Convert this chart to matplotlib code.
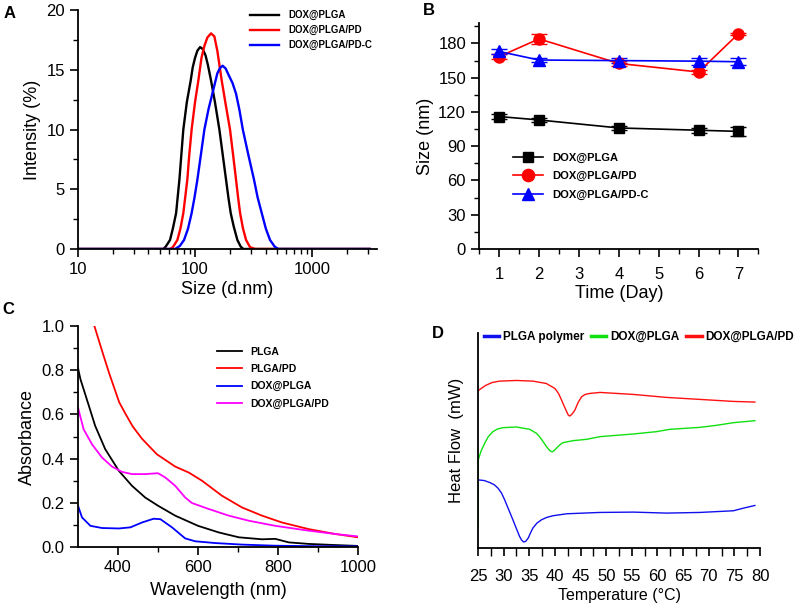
import matplotlib
matplotlib.use("Agg")
import matplotlib.pyplot as plt
import numpy as np
from matplotlib.ticker import MultipleLocator, FixedLocator, NullFormatter, NullLocator, FormatStrFormatter

plt.rcParams['font.family'] = ['Liberation Sans', 'DejaVu Sans']

# ---- panel A: DLS size distribution ----
a_black_x = [10, 53.6, 56.2, 61.1, 64.6, 68.9, 73.5, 79.4, 85.1, 91.8, 95.5, 100, 104.7, 110.4, 116.1, 123,
             128.8, 137, 147.9, 161.4, 171.8, 184, 192.8, 201.8, 213.8, 230, 245.5, 258.8, 3100]
a_black_y = [0, 0, 0.2, 0.75, 1.7, 3.0, 5.8, 10.0, 12.3, 14.1, 15.2, 16.0, 16.6, 16.9, 16.75, 16.2,
             15.4, 14.1, 12.3, 10.0, 8.0, 5.8, 4.3, 3.0, 1.9, 0.75, 0.2, 0, 0]
a_red_x = [10, 61.1, 64.6, 70.6, 75.0, 79.4, 85.9, 89.1, 93.5, 100, 106.7, 113.5, 120.2, 127.4, 137,
           146.2, 155, 169, 182.0, 199, 211.3, 224, 233.3, 242.7, 257.0, 273, 295.1, 326, 3100]
a_red_y = [0, 0, 0.15, 0.75, 1.7, 3.0, 5.8, 7.8, 10.0, 12.3, 14.1, 16.0, 17.0, 17.7, 18.05,
           17.8, 16.6, 14.1, 12.2, 10.0, 7.9, 5.8, 4.3, 3.0, 1.7, 0.75, 0.15, 0, 0]
a_blue_x = [10, 67.5, 74.1, 80.5, 87.1, 93.5, 98.9, 104.7, 112.2, 120.2, 130.3, 140.6, 155, 163.3, 172.2,
            182.8, 195, 208.9, 224, 239.9, 256, 285.1, 319, 342.8, 371.5, 402.7, 437.5, 478.6, 515, 3100]
a_blue_y = [0, 0, 0.25, 0.75, 1.7, 3.0, 4.3, 5.8, 7.9, 10.0, 11.7, 13.0, 14.7, 15.15, 15.34,
            15.1, 14.5, 13.9, 13.0, 11.6, 10.0, 7.9, 5.8, 4.3, 3.0, 1.7, 0.75, 0.2, 0, 0]
a_labels = ['DOX@PLGA', 'DOX@PLGA/PD', 'DOX@PLGA/PD-C']

# ---- panel B: size over time ----
b_days = [1, 2, 4, 6, 7]
b_plga = [116, 113, 106, 104, 103]
b_plga_err = [2, 2, 2, 2, 4]
b_pd = [168.5, 184, 162.5, 155, 188.5]
b_pd_err = [2, 4.5, 2, 2, 1]
b_pdc = [173, 165.5, 165, 164.5, 164]
b_pdc_err = [2, 2, 2, 3, 3]

# ---- panel C: absorbance spectra ----
c_plga_x = [300, 306, 327, 343, 368, 402, 435, 468, 500, 543, 600, 652, 702, 760, 793, 827, 877, 943, 1000]
c_plga_y = [0.81, 0.76, 0.64, 0.548, 0.443, 0.345, 0.277, 0.224, 0.187, 0.142, 0.096, 0.066, 0.044, 0.035,
            0.037, 0.021, 0.014, 0.009, 0.005]
c_pd_x = [341, 362, 378, 403, 418, 437, 460, 497, 543, 577, 610, 660, 710, 760, 810, 877, 943, 1000]
c_pd_y = [1.0, 0.877, 0.786, 0.655, 0.605, 0.545, 0.49, 0.42, 0.364, 0.337, 0.30, 0.232, 0.179, 0.142,
          0.111, 0.081, 0.059, 0.044]
c_dox_x = [300, 310, 331, 360, 402, 431, 460, 489, 506, 535, 568, 593, 643, 710, 793, 877, 1000]
c_dox_y = [0.187, 0.134, 0.096, 0.086, 0.084, 0.089, 0.111, 0.128, 0.126, 0.089, 0.039, 0.026, 0.018,
           0.011, 0.006, 0.004, 0.003]
c_doxpd_x = [300, 314, 335, 360, 385, 410, 435, 468, 500, 518, 543, 568, 585, 627, 677, 727, 793, 877, 943, 1000]
c_doxpd_y = [0.631, 0.533, 0.465, 0.405, 0.364, 0.340, 0.33, 0.33, 0.334, 0.315, 0.277, 0.224, 0.199,
             0.172, 0.142, 0.119, 0.096, 0.074, 0.059, 0.048]

# ---- panel D: DSC curves (arbitrary heat flow units) ----
d_red_x = [25, 25.8, 26.6, 27.8, 29.2, 32.5, 35.7, 38.3, 40.0, 40.7, 41.3, 41.8, 42.3, 42.6, 42.9, 43.3,
           43.9, 44.5, 45.2, 45.9, 46.8, 48.8, 55.3, 61.8, 68.3, 74.8, 79.0]
d_red_y = [473, 482, 490, 498, 502, 504, 502, 495, 480, 465, 445, 427, 410, 400, 397, 402,
           415, 437, 455, 462, 465, 468, 462, 453, 447, 441, 439]
d_green_x = [25, 25.05, 25.6, 26.3, 27.0, 27.9, 28.8, 29.9, 32.5, 35.1, 36.4, 37.0, 37.7, 38.4, 39.0, 39.3,
             39.6, 40.1, 40.6, 41.1, 41.6, 43.6, 46.2, 48.8, 55.3, 59.8, 62.4, 68.3, 71.5, 74.8, 79.0]
d_green_y = [65, 265, 292, 315, 335, 350, 358, 362, 364, 357, 345, 335, 320, 304, 293, 290,
             290, 297, 305, 312, 317, 323, 327, 335, 343, 350, 357, 363, 369, 377, 383]
d_blue_x = [25, 26.2, 27.3, 28.2, 28.9, 29.6, 30.2, 31.0, 31.8, 32.5, 33.1, 33.5, 33.9, 34.3, 34.8, 35.2,
            35.7, 36.5, 37.4, 38.4, 39.6, 42.3, 48.8, 55.3, 61.8, 68.3, 74.8, 76.8, 79.0]
d_blue_y = [205, 203, 197, 190, 180, 165, 145, 115, 85, 58, 35, 24, 18, 20, 30, 44,
            60, 75, 85, 92, 97, 103, 107, 108, 105, 107, 112, 120, 128]

fig = plt.figure(figsize=(8, 6.11), dpi=100)


def style(ax):
    ax.spines['top'].set_visible(False)
    ax.spines['right'].set_visible(False)
    for s in ['left', 'bottom']:
        ax.spines[s].set_linewidth(1.3)
    ax.tick_params(which='major', direction='out', length=6, width=1.2, labelsize=12)
    ax.tick_params(which='minor', direction='out', length=3.5, width=1.0)


# A
axA = fig.add_axes([0.0975, 0.5925, 0.374, 0.391])
axA.plot(a_black_x, a_black_y, color='black', lw=1.7, label=a_labels[0])
axA.plot(a_red_x, a_red_y, color='red', lw=1.7, label=a_labels[1])
axA.plot(a_blue_x, a_blue_y, color='blue', lw=1.7, label=a_labels[2])
axA.set_xscale('log')
axA.set_xlim(10, 3600)
axA.set_ylim(0, 20)
axA.xaxis.set_major_locator(FixedLocator([10, 100, 1000]))
axA.set_xticklabels(['10', '100', '1000'])
axA.xaxis.set_minor_formatter(NullFormatter())
axA.yaxis.set_major_locator(MultipleLocator(5))
axA.yaxis.set_minor_locator(MultipleLocator(2.5))
style(axA)
axA.set_xlabel('Size (d.nm)', fontsize=13, labelpad=3)
axA.set_ylabel('Intensity (%)', fontsize=13, labelpad=4)
axA.legend(loc='upper left', bbox_to_anchor=(0.56, 1.02), frameon=False, borderpad=0,
           handlelength=2.9, handletextpad=1.0, labelspacing=0.5,
           prop={'weight': 'bold', 'size': 7})

# B
axB = fig.add_axes([0.599, 0.5925, 0.349, 0.370])
for yv, ye, c in [(b_plga, b_plga_err, 'black'), (b_pd, b_pd_err, 'red'), (b_pdc, b_pdc_err, 'blue')]:
    axB.errorbar(b_days, yv, yerr=ye, fmt='none', ecolor=c, capsize=6, capthick=1, elinewidth=1)
axB.plot(b_days, b_plga, color='black', marker='s', ms=7, lw=1.2, label='DOX@PLGA')
axB.plot(b_days, b_pd, color='red', marker='o', ms=8, lw=1.2, label='DOX@PLGA/PD')
axB.plot(b_days, b_pdc, color='blue', marker='^', ms=8, lw=1.2, label='DOX@PLGA/PD-C')
axB.set_xlim(0.5, 7.5)
axB.set_ylim(0, 198)
axB.xaxis.set_major_locator(MultipleLocator(1))
axB.xaxis.set_minor_locator(MultipleLocator(0.5))
axB.yaxis.set_major_locator(MultipleLocator(30))
axB.yaxis.set_minor_locator(MultipleLocator(15))
style(axB)
axB.tick_params(axis='x', which='major', pad=7)
axB.set_xlabel('Time (Day)', fontsize=13, labelpad=2)
axB.set_ylabel('Size (nm)', fontsize=13, labelpad=3)
axB.legend(loc='upper left', bbox_to_anchor=(0.1, 0.45), frameon=False, borderpad=0,
           handlelength=2.7, handletextpad=0.9, labelspacing=0.75, markerscale=1.1,
           prop={'weight': 'bold', 'size': 8})

# C
axC = fig.add_axes([0.0975, 0.1047, 0.35, 0.3617])
axC.plot(c_plga_x, c_plga_y, color='black', lw=1.3, label='PLGA')
axC.plot(c_pd_x, c_pd_y, color='red', lw=1.3, label='PLGA/PD')
axC.plot(c_dox_x, c_dox_y, color='blue', lw=1.3, label='DOX@PLGA')
axC.plot(c_doxpd_x, c_doxpd_y, color='#ff00ff', lw=1.3, label='DOX@PLGA/PD')
axC.set_xlim(300, 1000)
axC.set_ylim(0, 1.0)
axC.xaxis.set_major_locator(FixedLocator([400, 600, 800, 1000]))
axC.xaxis.set_minor_locator(FixedLocator([500, 700, 900]))
axC.yaxis.set_major_locator(MultipleLocator(0.2))
axC.yaxis.set_minor_locator(MultipleLocator(0.1))
axC.yaxis.set_major_formatter(FormatStrFormatter('%.1f'))
style(axC)
axC.set_xlabel('Wavelength (nm)', fontsize=13, labelpad=5)
axC.set_ylabel('Absorbance', fontsize=13, labelpad=4)
axC.legend(loc='upper left', bbox_to_anchor=(0.479, 0.93), frameon=False, borderpad=0,
           handlelength=2.4, handletextpad=0.8, labelspacing=0.7,
           prop={'weight': 'bold', 'size': 7.5})

# D
axD = fig.add_axes([0.5975, 0.1031, 0.3525, 0.352])
axD.plot(d_blue_x, d_blue_y, color='#1010ee', lw=1.0, label='PLGA polymer')
axD.plot(d_green_x, d_green_y, color='#10e010', lw=1.0, label='DOX@PLGA')
axD.plot(d_red_x, d_red_y, color='#ff1010', lw=1.0, label='DOX@PLGA/PD')
axD.set_xlim(25, 80)
axD.set_ylim(0, 647)
axD.xaxis.set_major_locator(MultipleLocator(5))
axD.xaxis.set_minor_locator(MultipleLocator(2.5))
axD.yaxis.set_major_locator(NullLocator())
style(axD)
axD.tick_params(which='minor', length=6)
axD.tick_params(axis='x', which='major', pad=9)
axD.set_xlabel('Temperature (\u00b0C)', fontsize=11.5, labelpad=3)
axD.set_ylabel('Heat Flow  (mW)', fontsize=12, labelpad=10)
legD = axD.legend(loc='center left', bbox_to_anchor=(0.0, 0.98), frameon=False, borderpad=0,
                  ncol=3, handlelength=1.3, handletextpad=0.3, columnspacing=0.6,
                  prop={'weight': 'bold', 'size': 8.5})
for h in legD.get_lines():
    h.set_linewidth(2.5)

# panel letters
fig.text(0.004, 0.99, 'A', fontsize=12, fontweight='bold', va='top')
fig.text(0.528, 0.995, 'B', fontsize=12, fontweight='bold', va='top')
fig.text(0.003, 0.505, 'C', fontsize=12, fontweight='bold', va='top')
fig.text(0.54, 0.466, 'D', fontsize=12, fontweight='bold', va='top')

fig.savefig('out.png', dpi=100)
